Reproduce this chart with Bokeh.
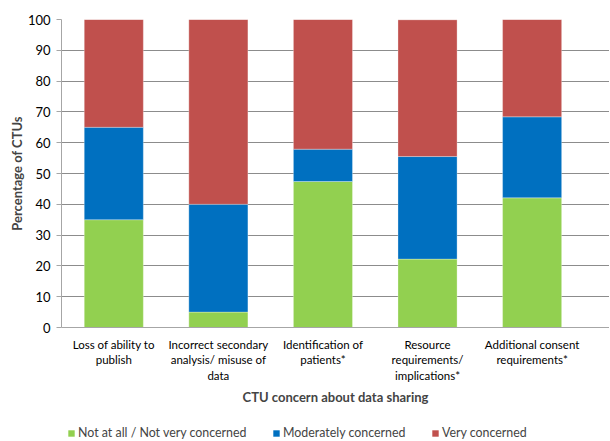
from bokeh.plotting import figure
from bokeh.layouts import column
from bokeh.models import ColumnDataSource, FixedTicker, Legend, LegendItem
from bokeh.embed import file_html
from bokeh.resources import INLINE

categories = ["Loss of ability to\npublish",
              "Incorrect secondary\nanalysis/ misuse of\ndata",
              "Identification of\npatients*",
              "Resource\nrequirements/\nimplications*",
              "Additional consent\nrequirements*"]
not_concerned = [35.0, 5.0, 47.4, 22.2, 42.1]
moderately = [30.0, 35.0, 10.5, 33.3, 26.3]
very = [35.0, 60.0, 42.1, 44.4, 31.6]
series_names = ["Not at all / Not very concerned", "Moderately concerned", "Very concerned"]
colors = ["#92D050", "#0070C0", "#C0504D"]
y_ticks = [0, 10, 20, 30, 40, 50, 60, 70, 80, 90, 100]

FONT = "Lato"

xs = list(range(len(categories)))
src = ColumnDataSource(dict(x=xs, a=not_concerned, b=moderately, c=very))

p = figure(width=609, height=421, x_range=(-0.5, 4.74), y_range=(0, 100),
           output_backend="svg", toolbar_location=None,
           min_border_left=61, min_border_right=0, min_border_top=19, min_border_bottom=94)
p.outline_line_color = None

p.vbar_stack(["a", "b", "c"], x="x", width=0.565, source=src,
             color=colors, line_color="white", line_width=0.5, line_alpha=0.6)

# axes
p.yaxis.ticker = FixedTicker(ticks=y_ticks)
p.yaxis.axis_line_color = "#A6A6A6"
p.yaxis.major_tick_line_color = "#A6A6A6"
p.yaxis.major_tick_out = 5
p.yaxis.major_tick_in = 0
p.yaxis.minor_tick_line_color = None
p.yaxis.major_label_text_font = FONT
p.yaxis.major_label_text_font_size = "13px"
p.yaxis.major_label_text_color = "#000000"
p.yaxis.major_label_standoff = 6
p.yaxis.axis_label = "Percentage of CTUs"
p.yaxis.axis_label_text_font = FONT
p.yaxis.axis_label_text_font_style = "bold"
p.yaxis.axis_label_text_font_size = "13px"
p.yaxis.axis_label_standoff = 0

p.xaxis.ticker = FixedTicker(ticks=xs)
p.xaxis.major_label_overrides = {i: c for i, c in enumerate(categories)}
p.xaxis.axis_line_color = "#A6A6A6"
p.xaxis.major_tick_line_color = None
p.xaxis.minor_tick_line_color = None
p.xaxis.major_label_text_font = FONT
p.xaxis.major_label_text_font_size = "11.5px"
p.xaxis.major_label_text_color = "#000000"
p.xaxis.major_label_standoff = 4
p.xaxis.axis_label = "CTU concern about data sharing"
p.xaxis.axis_label_text_font = FONT
p.xaxis.axis_label_text_font_style = "bold"
p.xaxis.axis_label_text_font_size = "13px"
p.xaxis.axis_label_standoff = 4

p.xgrid.grid_line_color = None
p.ygrid.ticker = FixedTicker(ticks=y_ticks)
p.ygrid.grid_line_color = "#8C8C8C"
p.ygrid.grid_line_width = 1

# legend strip below the chart (frames are aligned by the column layout)
p2 = figure(width=609, height=19, x_range=(0, 1), y_range=(0, 1),
            output_backend="svg", toolbar_location=None,
            min_border_left=0, min_border_right=0, min_border_top=0, min_border_bottom=0)
p2.axis.visible = False
p2.grid.grid_line_color = None
p2.outline_line_color = None
leg_x = [6, 211, 370]
for name, c, lx in zip(series_names, colors, leg_x):
    # zero-height proxy bar outside the view, used only for the legend swatch
    r = p2.vbar(x=[-5], top=[0], bottom=[0], width=0.1, fill_color=c, line_alpha=0)
    lg = Legend(items=[LegendItem(label=name, renderers=[r])], location=(lx, 0),
                orientation="horizontal", padding=0, margin=0, spacing=0,
                glyph_width=8, glyph_height=8, label_standoff=3, label_height=14,
                label_text_font=FONT, label_text_font_size="12.4px",
                background_fill_alpha=0, border_line_color=None)
    p2.add_layout(lg, "center")

layout = column(p, p2, spacing=0)
open("out.html", "w").write(file_html(layout, INLINE))
